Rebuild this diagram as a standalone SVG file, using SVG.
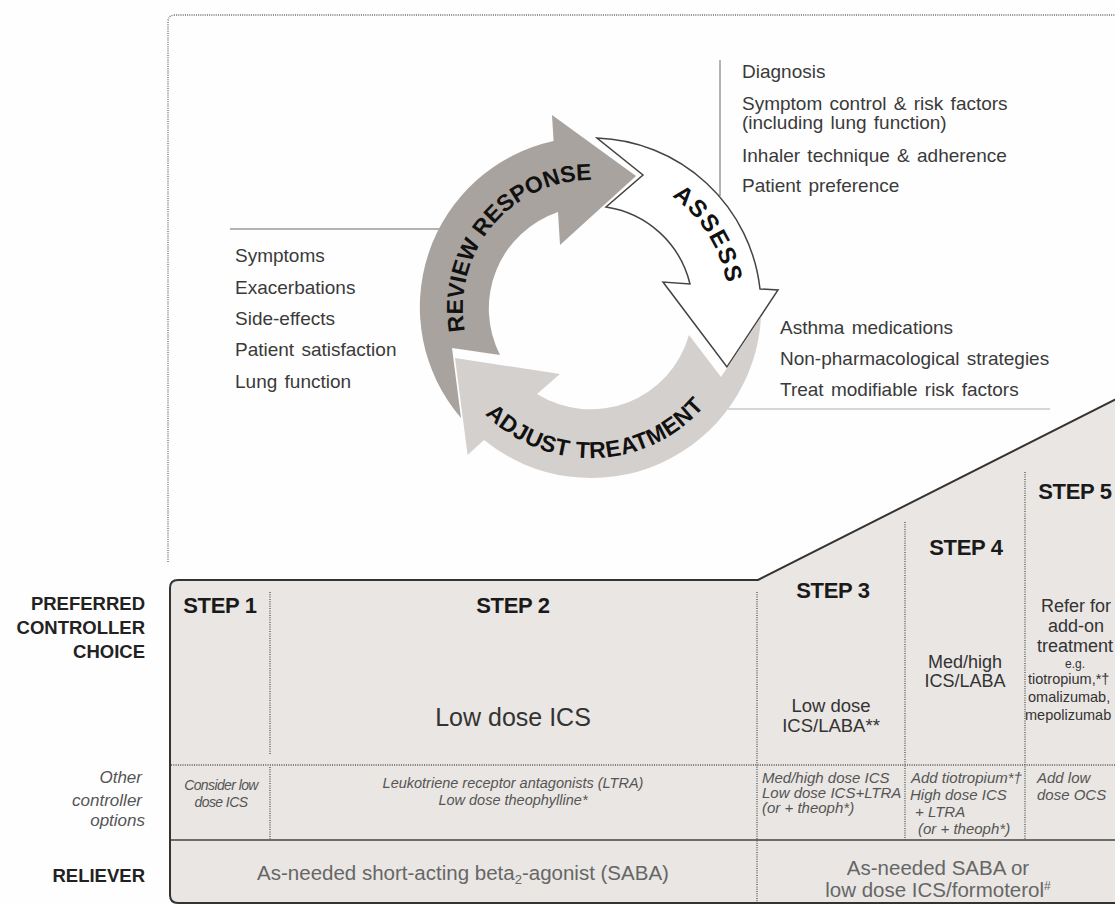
<svg xmlns="http://www.w3.org/2000/svg" width="1115" height="905" viewBox="0 0 1115 905">
<style>
text{font-family:"Liberation Sans",Arial,sans-serif;}
.lst{font-size:19px;fill:#3a3a3a;word-spacing:2px;}
.arc{font-size:23px;font-weight:bold;fill:#111;}
.step{font-size:22px;font-weight:bold;fill:#1a1a1a;text-anchor:middle;letter-spacing:-0.3px;}
.lbl{font-size:18.5px;font-weight:bold;fill:#222;text-anchor:end;}
.oth{font-size:17px;font-style:italic;fill:#555;text-anchor:end;}
.pc{font-size:18.5px;fill:#333;text-anchor:middle;}
.op{font-size:15px;font-style:italic;fill:#555;}
.rl{font-size:20.5px;fill:#666;text-anchor:middle;}
.dot{stroke:#555;stroke-width:1.3;stroke-dasharray:1 1.3;fill:none;}
.conn{stroke:#9a9a9a;stroke-width:1.5;fill:none;}
</style>
<defs>
<path id="pRev" d="M 480.1,372 A 128 128 0 0 1 634.8,187.7"/>
<path id="pAss" d="M 610.2,171.3 A 138 138 0 0 1 722.2,350.6"/>
<path id="pAdj" d="M 450,359.3 A 150 150 0 0 0 732,359.3"/>
</defs>
<rect width="1115" height="905" fill="#fefefe"/>
<g id="frame">
<path d="M 168,562 L 168,22 Q 168,15 175,15 L 1115,15" stroke="#666" stroke-width="1.3" stroke-dasharray="1 1.2" fill="none"/>
</g>
<g id="connectors">
<line class="conn" x1="720" y1="60" x2="720" y2="196"/>
<line class="conn" x1="230" y1="229" x2="441" y2="229"/>
<line x1="728" y1="409" x2="1050" y2="409" stroke="#c8c8c8" stroke-width="1.5"/>
</g>
<g id="review">
<path d="M 461,418 A 170 170 0 0 1 553.6,141 L 552,115 L 636,176 L 560,245 L 558,212 A 102 102 0 0 0 500,355 L 452,348 Z" fill="#a9a39f"/>
<text class="arc"><textPath href="#pRev" startOffset="50%" text-anchor="middle">REVIEW RESPONSE</textPath></text>
</g>
<g id="assess">
<path d="M 597,138 A 170 170 0 0 1 760,289 L 778,290 L 727,367 L 663,282 L 690,284 A 102 102 0 0 0 606,207 L 643,175 Z" fill="#ffffff" stroke="#444" stroke-width="1.5" stroke-linejoin="miter"/>
<text class="arc" style="font-size:24px" letter-spacing="1.5"><textPath href="#pAss" startOffset="50%" text-anchor="middle">ASSESS</textPath></text>
</g>
<g id="adjust">
<path d="M 761,317 A 170 170 0 0 1 484,440 L 467.6,455 L 455,358 L 560,374 L 537,394 A 102 102 0 0 0 689,335 L 721,377 Z" fill="#d4d0cd"/>
<text class="arc" letter-spacing="0.5"><textPath href="#pAdj" startOffset="51.5%" text-anchor="middle">ADJUST TREATMENT</textPath></text>
</g>
<g id="review-list">
<text class="lst" x="235" y="262">Symptoms</text>
<text class="lst" x="235" y="294">Exacerbations</text>
<text class="lst" x="235" y="325">Side-effects</text>
<text class="lst" x="235" y="356">Patient satisfaction</text>
<text class="lst" x="235" y="388">Lung function</text>
</g>
<g id="assess-list">
<text class="lst" x="742" y="78">Diagnosis</text>
<text class="lst" x="742" y="110">Symptom control &amp; risk factors</text>
<text class="lst" x="742" y="129">(including lung function)</text>
<text class="lst" x="742" y="162">Inhaler technique &amp; adherence</text>
<text class="lst" x="742" y="192">Patient preference</text>
</g>
<g id="adjust-list">
<text class="lst" x="780" y="334">Asthma medications</text>
<text class="lst" x="780" y="365">Non-pharmacological strategies</text>
<text class="lst" x="780" y="396">Treat modifiable risk factors</text>
</g>
<g id="steps-box">
<path d="M 170,588 Q 170,580 178,580 L 758,580 L 1120,397 L 1120,903 L 178,903 Q 170,903 170,895 Z" fill="#e9e6e3" stroke="#333" stroke-width="2"/>
<line class="dot" x1="171" y1="765" x2="1115" y2="765"/>
<line class="dot" x1="270" y1="592" x2="270" y2="755"/>
<line class="dot" x1="270" y1="767" x2="270" y2="839"/>
<line class="dot" x1="757" y1="592" x2="757" y2="902"/>
<line class="dot" x1="905" y1="522" x2="905" y2="840"/>
<line class="dot" x1="1025" y1="472" x2="1025" y2="840"/>
<line x1="171" y1="840" x2="1115" y2="840" stroke="#444" stroke-width="1.5"/>
</g>
<g id="row-labels">
<text class="lbl" x="145" y="610">PREFERRED</text>
<text class="lbl" x="145" y="634">CONTROLLER</text>
<text class="lbl" x="145" y="658">CHOICE</text>
<text class="oth" x="142" y="783">Other</text>
<text class="oth" x="142" y="806">controller</text>
<text class="oth" x="145" y="826">options</text>
<text class="lbl" x="145" y="882">RELIEVER</text>
</g>
<g id="step1">
<text class="step" x="220" y="613">STEP 1</text>
<text class="op" x="221" y="790" text-anchor="middle" style="font-size:14px;letter-spacing:-0.6px">Consider low</text>
<text class="op" x="221" y="807" text-anchor="middle" style="font-size:14px;letter-spacing:-0.6px">dose ICS</text>
</g>
<g id="step2">
<text class="step" x="513" y="613">STEP 2</text>
<text class="pc" x="513" y="726" style="font-size:25px">Low dose ICS</text>
<text class="op" x="513" y="788" text-anchor="middle" style="font-size:14.5px">Leukotriene receptor antagonists (LTRA)</text>
<text class="op" x="513" y="805" text-anchor="middle" style="font-size:14.5px">Low dose theophylline*</text>
</g>
<g id="step3">
<text class="step" x="833" y="598">STEP 3</text>
<text class="pc" x="831" y="712">Low dose</text>
<text class="pc" x="831" y="732">ICS/LABA**</text>
<text class="op" x="762" y="783">Med/high dose ICS</text>
<text class="op" x="762" y="798">Low dose ICS+LTRA</text>
<text class="op" x="762" y="813">(or + theoph*)</text>
</g>
<g id="step4">
<text class="step" x="966" y="555">STEP 4</text>
<text class="pc" x="965" y="668" style="font-size:18px">Med/high</text>
<text class="pc" x="965" y="687" style="font-size:18px">ICS/LABA</text>
<text class="op" x="911" y="783">Add tiotropium*†</text>
<text class="op" x="910" y="800">High dose ICS</text>
<text class="op" x="915" y="817">+ LTRA</text>
<text class="op" x="918" y="834">(or + theoph*)</text>
</g>
<g id="step5">
<text class="step" x="1075" y="499">STEP 5</text>
<text class="pc" x="1076" y="612" style="font-size:18px">Refer for</text>
<text class="pc" x="1076" y="632" style="font-size:18px">add-on</text>
<text class="pc" x="1075" y="652" style="font-size:18px">treatment</text>
<text class="pc" x="1075" y="668" style="font-size:12px">e.g.</text>
<text x="1028" y="684" font-size="14.5" fill="#333">tiotropium,*†</text>
<text x="1028" y="702" font-size="14.5" fill="#333">omalizumab,</text>
<text x="1025" y="720" font-size="14.5" fill="#333">mepolizumab</text>
<text class="op" x="1037" y="783">Add low</text>
<text class="op" x="1037" y="800">dose OCS</text>
</g>
<g id="reliever">
<text class="rl" x="463" y="880">As-needed short-acting beta<tspan font-size="13" dy="4">2</tspan><tspan dy="-4">-agonist (SABA)</tspan></text>
<text class="rl" x="938" y="875">As-needed SABA or</text>
<text class="rl" x="938" y="897">low dose ICS/formoterol<tspan font-size="12" dy="-7">#</tspan></text>
</g>
</svg>
